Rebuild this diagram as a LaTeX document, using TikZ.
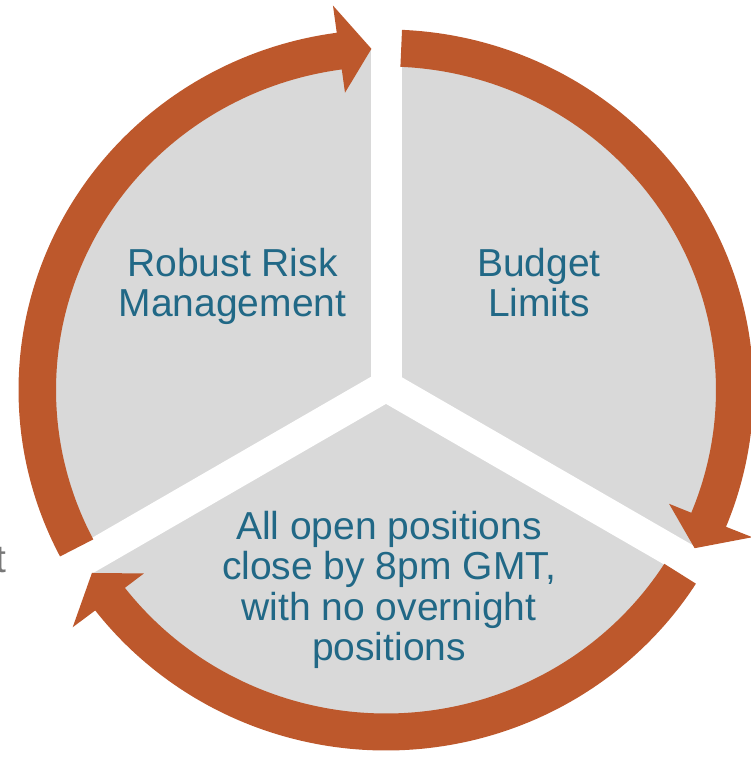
\documentclass[tikz,border=0pt]{standalone}
\usepackage{fontspec}
\setmainfont{Liberation Sans}
\usetikzlibrary{positioning}
\definecolor{ringorange}{RGB}{189,88,44}
\definecolor{sectorgray}{RGB}{217,217,217}
\definecolor{labelteal}{RGB}{33,104,134}
\definecolor{straygray}{RGB}{120,120,120}
\tikzset{
  labeltext/.style={text=labelteal, align=center, font=\fontsize{39}{40.5}\selectfont},
  cyclearrow/.style={fill=ringorange},
  gapline/.style={draw=white, line width=31pt},
}

\begin{document}
\begin{tikzpicture}[x=1pt,y=1pt]
  \clip (-386,-370) rectangle (365,390);
  \coordinate (C) at (0,4);
  \fill[sectorgray] (0,0) ellipse [x radius=348.3, y radius=341.5];
  \foreach \a in {90,210,330}
    \draw[gapline] (C) ++(\a:-6) -- ++(\a:420);
  % the three arrows of the cycle
  \foreach \from/\base/\tip in {207.5/97.7/92.4, 87.5/-22.3/-27.6, -32.5/-142.3/-147.6}
    \fill[cyclearrow] (\from:330 and 323.5)
      arc[start angle=\from, end angle=\base, x radius=330, y radius=323.5]
      -- (\base:306 and 300) -- (\tip:348.3 and 341.5) -- (\base:396 and 388)
      -- (\base:367.5 and 360.5)
      arc[start angle=\base, end angle=\from, x radius=367.5, y radius=360.5] -- cycle;
  \node[labeltext] (risk) at (-153.5,103.5) {Robust Risk\\Management};
  \node[labeltext] (budget) at (153,107.5) {Budget\\Limits};
  \node[labeltext] (closing) at (3,-200) {All open positions\\close by 8pm GMT,\\with no overnight\\positions};
  \node[text=straygray, anchor=base west, inner sep=0pt, font=\fontsize{39}{40.5}\selectfont] (stray) at (-391,-182) {t};
\end{tikzpicture}
\end{document}
